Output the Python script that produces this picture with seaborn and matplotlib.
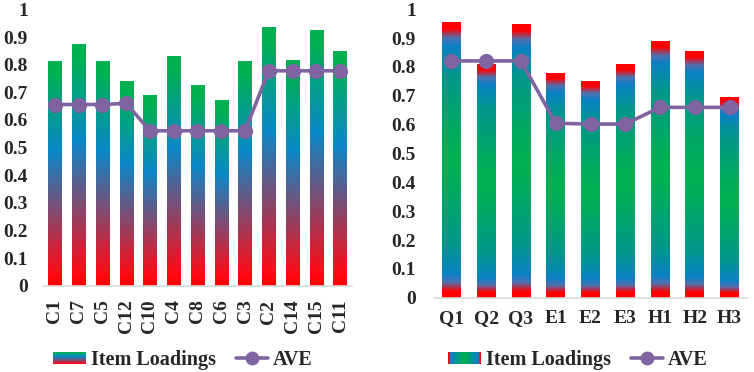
import numpy as np
import pandas as pd
import matplotlib
matplotlib.use("Agg")
import matplotlib.pyplot as plt
import seaborn as sns
from matplotlib.colors import LinearSegmentedColormap
from matplotlib.patches import Rectangle
from matplotlib.legend_handler import HandlerBase

# ---------------- data ----------------
left_items = ["C1", "C7", "C5", "C12", "C10", "C4", "C8", "C6", "C3", "C2", "C14", "C15", "C11"]
left_loadings = [0.813, 0.875, 0.814, 0.741, 0.689, 0.830, 0.726, 0.673, 0.814, 0.937, 0.817, 0.925, 0.849]
left_ave = [0.656, 0.656, 0.656, 0.660, 0.561, 0.561, 0.561, 0.561, 0.561, 0.778, 0.778, 0.778, 0.778]

right_items = ["Q1", "Q2", "Q3", "E1", "E2", "E3", "H1", "H2", "H3"]
right_loadings = [0.955, 0.810, 0.950, 0.777, 0.751, 0.810, 0.888, 0.853, 0.694]
right_ave = [0.821, 0.821, 0.821, 0.605, 0.602, 0.602, 0.660, 0.660, 0.660]

y_ticks = [0, 0.1, 0.2, 0.3, 0.4, 0.5, 0.6, 0.7, 0.8, 0.9, 1.0]
y_tick_labels = ["0", "0.1", "0.2", "0.3", "0.4", "0.5", "0.6", "0.7", "0.8", "0.9", "1"]
legend_labels = ["Item Loadings", "AVE"]

# ---------------- style ----------------
sns.set_theme(style="white")
plt.rcParams["font.family"] = ["Liberation Serif", "DejaVu Serif"]
plt.rcParams["font.weight"] = "bold"
FS = 14
PURPLE = "#8064A2"
AXIS_GRAY = "#D9D9D9"

# gradient along the bar height (0 = bottom, 1 = top)
left_cmap = LinearSegmentedColormap.from_list(
    "left", [(0.0, "#FF0000"), (0.05, "#FF0A14"), (0.60, "#0A88C8"),
             (0.95, "#00B050"), (1.0, "#00B050")])
# gradient by distance from the bar centre (0 = centre, 1 = edge)
right_cmap = LinearSegmentedColormap.from_list(
    "right", [(0.0, "#00B050"), (0.15, "#00AC58"), (0.62, "#00968C"), (0.83, "#0A80C4"),
              (0.89, "#5070B0"), (0.955, "#FF0000"), (1.0, "#FF0000")])
legend_right_cmap = LinearSegmentedColormap.from_list(
    "legright", [(0.0, "#00B050"), (0.3, "#00A070"), (0.7, "#0A84C0"),
                 (0.9, "#1A7CC0"), (0.95, "#FF0000"), (1.0, "#FF0000")])

N = 256
f = np.linspace(0, 1, N)
left_img = left_cmap(f)[:, None, :3]
right_img = right_cmap(np.abs(2 * f - 1))[:, None, :3]


def gradient_bars(ax, img):
    for p in list(ax.patches):
        x, y = p.get_x(), p.get_y()
        w, h = p.get_width(), p.get_height()
        ax.imshow(img, extent=[x, x + w, y, y + h], origin="lower",
                  aspect="auto", zorder=1.5, interpolation="bilinear")
        p.set_facecolor("none")
        p.set_edgecolor("none")


class GradHandler(HandlerBase):
    def __init__(self, cmap, mode):
        super().__init__()
        self.cmap = cmap
        self.mode = mode

    def create_artists(self, legend, orig_handle, xdescent, ydescent,
                       width, height, fontsize, trans):
        arts = []
        n = 40
        x0, y0 = -xdescent, -ydescent
        for i in range(n):
            t = (i + 0.5) / n
            if self.mode == "v":
                r = Rectangle((x0, y0 + i * height / n), width, height / n * 1.05,
                              facecolor=self.cmap(t), edgecolor="none", transform=trans)
            else:
                r = Rectangle((x0 + i * width / n, y0), width / n * 1.05, height,
                              facecolor=self.cmap(abs(2 * t - 1)), edgecolor="none",
                              transform=trans)
            arts.append(r)
        return arts


def draw_panel(ax, items, loadings, ave, img, cmap, mode, width, ypad, xpad, rot,
               leg_x):
    df = pd.DataFrame({"item": items, "loading": loadings, "ave": ave})
    sns.barplot(data=df, x="item", y="loading", order=items, width=width,
                color="#00B050", ax=ax, errorbar=None)
    gradient_bars(ax, img)
    sns.pointplot(data=df, x="item", y="ave", order=items, color=PURPLE,
                  markers="o", markersize=9, linewidth=2.6, errorbar=None, ax=ax)
    for ln in ax.lines:
        ln.set_zorder(5)
    ax.set_xlim(-0.5, len(items) - 0.5)
    ax.set_ylim(0, 1)
    ax.set_yticks(y_ticks)
    ax.set_yticklabels(y_tick_labels, fontsize=FS, fontweight="bold")
    ax.set_xticks(range(len(items)))
    ax.set_xticklabels(items, fontsize=FS, fontweight="bold", rotation=rot)
    ax.tick_params(axis="y", length=0, pad=ypad)
    ax.tick_params(axis="x", length=0, pad=xpad)
    ax.set_xlabel("")
    ax.set_ylabel("")
    for s in ["top", "left", "right"]:
        ax.spines[s].set_visible(False)
    ax.spines["bottom"].set_color(AXIS_GRAY)
    ax.spines["bottom"].set_linewidth(1.2)
    ax.grid(False)

    bar_handle = Rectangle((0, 0), 1, 1)
    line_handle = plt.Line2D([], [], color=PURPLE, marker="o", markersize=9,
                             linewidth=2.6)
    ax.legend([bar_handle, line_handle], legend_labels, loc="center",
              bbox_to_anchor=(leg_x, 0.032), bbox_transform=ax.figure.transFigure,
              ncol=2, frameon=False, handler_map={Rectangle: GradHandler(cmap, mode)},
              prop={"size": FS + 0.5, "weight": "bold"}, handlelength=1.6,
              handleheight=0.6, handletextpad=0.25, columnspacing=1.0)


fig = plt.figure(figsize=(7.54, 3.72), dpi=100)
ax1 = fig.add_axes([43 / 754, 1 - 285.7 / 372, 309 / 754, (285.7 - 9.5) / 372])
ax2 = fig.add_axes([434 / 754, 1 - 297.7 / 372, 313 / 754, (297.7 - 9.3) / 372])

draw_panel(ax1, left_items, left_loadings, left_ave, left_img, left_cmap, "v",
           0.56, 11, 10, 90, 183 / 754)
draw_panel(ax2, right_items, right_loadings, right_ave, right_img, legend_right_cmap, "h",
           0.54, 13, 9, 0, 578 / 754)

fig.savefig("out.png", dpi=100)
